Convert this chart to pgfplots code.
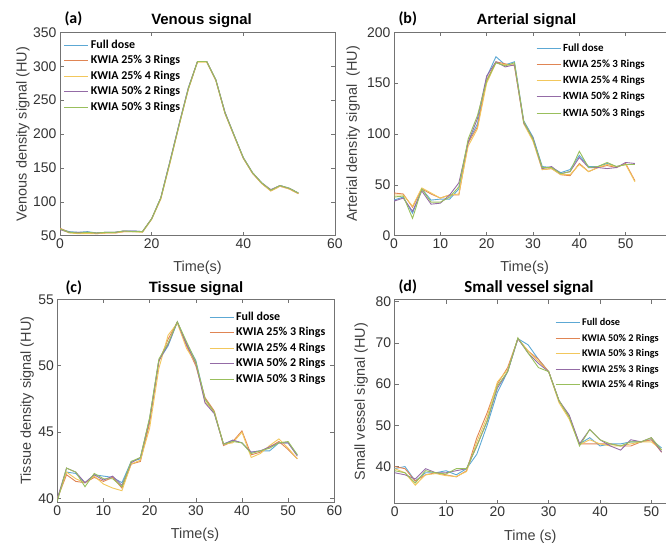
\documentclass[border=0pt]{standalone}
\usepackage{fontspec}
\setmainfont{Liberation Sans}
\newfontfamily\calibri{Carlito}
\usepackage{pgfplots}
\usepackage{pgfplotstable}
\pgfplotsset{compat=1.18}

\definecolor{cfd}{rgb}{0.36,0.66,0.83}
\definecolor{cor}{rgb}{0.88,0.52,0.33}
\definecolor{cye}{rgb}{0.95,0.78,0.36}
\definecolor{cpu}{rgb}{0.58,0.42,0.65}
\definecolor{cgr}{rgb}{0.60,0.75,0.36}

% venous: t, full dose, 25% 3R, 25% 4R, 50% 2R, 50% 3R
\pgfplotstableread{
t fd a b c d
0 60 61 60 59 60
2 56 55 54 55 55
4 55 54 53 55 54
6 56 54 53 55 55
8 54 53 53 54 54
10 55 54 54 55 55
12 55 54 54 55 55
14 57 56 56 57 57
16 57 56 56 57 56
18 56 56 55 56 56
20 75 75 74 75 75
22 106 105 104 106 106
24 160 158 157 160 159
26 215 213 213 215 214
28 268 266 266 268 267
30 307 307 306 307 307
32 307 307 306 307 307
34 280 279 279 280 280
36 232 230 231 232 231
38 198 197 197 198 198
40 165 164 164 165 165
42 143 142 142 143 143
44 128 127 127 128 128
46 117 116 116 118 117
48 124 123 123 124 124
50 120 119 119 120 120
52 113 112 112 113 113
}\venous

\pgfplotstableread{
t fd a b c d
0 35 42 40 34 38
2 38 41 40 37 39
4 22 28 29 24 17
6 46 46 47 44 46
8 35 41 42 31 33
10 36 37 37 32 33
12 36 40 40 40 38
14 46 40 41 52 48
16 92 91 88 92 95
18 110 107 105 115 118
20 156 153 150 157 152
22 176 171 170 171 170
24 168 169 168 166 167
26 171 167 168 168 170
28 113 112 110 111 112
30 97 94 93 96 95
32 68 65 65 66 67
34 67 66 66 68 67
36 62 60 60 61 61
38 65 59 60 63 63
40 79 71 70 77 83
42 68 63 63 67 67
44 68 67 67 67 68
46 71 69 70 66 72
48 68 67 68 67 68
50 70 71 70 72 70
52 70 54 53 71 70
}\arterial

\pgfplotstableread{
t fd a b c d
0 40.0 40.0 40.0 40.0 39.8
2 42.0 41.8 42.0 42.3 42.3
4 41.9 41.3 41.5 42.0 42.0
6 41.2 41.2 41.2 41.2 40.9
8 41.8 41.6 41.7 41.8 41.9
10 41.7 41.3 41.1 41.4 41.5
12 41.6 41.6 40.8 41.7 41.5
14 41.2 40.8 40.6 41.0 40.9
16 42.8 42.6 42.6 42.7 42.8
18 43.0 42.8 42.9 43.1 43.1
20 46.0 45.7 45.3 46.0 46.1
22 50.4 50.3 49.8 50.4 50.5
24 51.5 52.0 52.3 51.6 51.7
26 53.3 53.3 53.2 53.3 53.3
28 51.7 51.5 51.3 51.6 51.8
30 50.4 50.0 50.2 50.2 50.3
32 47.5 47.6 47.3 47.2 47.5
34 46.5 46.6 46.5 46.4 46.5
36 44.1 44.0 44.1 44.1 44.1
38 44.4 44.3 44.2 44.4 44.3
40 44.2 45.1 45.0 44.2 44.2
42 43.5 43.3 43.1 43.5 43.4
44 43.6 43.5 43.4 43.6 43.6
46 43.6 43.9 44.0 43.9 43.8
48 44.2 44.3 44.5 44.2 44.2
50 44.2 43.7 43.8 44.2 44.3
52 43.3 43.0 43.0 43.2 43.3
}\tissue

% small vessel: full dose, 50% 2R, 50% 3R, 25% 3R, 25% 4R
\pgfplotstableread{
t fd a b c d
0 39.5 40.0 39.5 38.5 39.0
2 40.0 39.5 38.5 38.0 38.5
4 36.5 36.5 35.5 37.0 36.0
6 38.5 38.0 38.0 39.5 39.0
8 38.5 38.5 38.3 38.5 38.5
10 39.0 38.0 37.8 38.5 38.2
12 38.0 37.5 37.6 39.0 39.5
14 39.5 39.0 38.8 39.5 39.5
16 43.0 47.0 46.0 45.0 45.0
18 50.0 53.0 52.0 51.0 51.0
20 58.0 60.0 60.5 59.0 59.5
22 63.0 64.0 63.5 63.0 63.0
24 71.0 71.0 71.0 71.0 71.2
26 69.5 68.0 68.0 67.5 67.5
28 66.0 66.0 65.5 65.0 64.0
30 63.0 63.0 63.0 63.0 63.0
32 56.0 56.0 55.5 56.0 56.0
34 52.0 52.0 51.5 52.5 52.0
36 45.5 45.5 45.3 45.5 45.0
38 47.0 45.5 46.5 49.0 49.0
40 45.0 45.5 45.5 46.5 46.5
42 45.5 45.5 45.0 45.0 45.5
44 45.5 45.0 45.0 44.0 45.0
46 46.0 45.0 45.5 46.5 46.0
48 46.0 46.0 46.0 46.0 46.0
50 46.5 46.5 46.0 47.0 47.0
52 44.5 43.5 44.0 43.5 44.0
}\vessel

\pgfplotsset{
  panel/.style={
    scale only axis, anchor=south west,
    axis line style={black!55, line width=0.6bp},
    tick style={black!55, line width=0.6bp},
    tick align=inside, major tick length=4bp,
    ticklabel style={font=\fontsize{14}{14}\selectfont, text=black!80},
    /pgf/number format/assume math mode=true,
    label style={font=\fontsize{14.5}{15}\selectfont, text=black!75},
    legend style={draw=none, fill=none, anchor=north west,
      font=\calibri\bfseries\fontsize{12}{12}\selectfont,
      nodes={inner sep=2pt, text height=8.5bp, text depth=2.5bp}, row sep=0.5bp},
    legend cell align=left,
    legend image code/.code={\draw[##1] (0bp,0bp) -- (24bp,0bp);},
    every axis plot/.append style={line width=0.9bp, mark=none},
  },
}

\begin{document}
\begin{tikzpicture}
\path[use as bounding box] (0,0) rectangle (666bp,-545bp);

% (a)
\begin{axis}[panel, at={(60bp,-235.7bp)}, width=275bp, height=203.4bp,
  xmin=0, xmax=60, ymin=50, ymax=350,
  xtick={0,20,40,60}, ytick={50,100,...,350},
  xlabel={Time(s)}, ylabel={Venous density signal (HU)},
  xlabel style={at={(axis description cs:0.5,-0.158)}, anchor=center},
  ylabel style={at={(axis description cs:-0.135,0.5)}, anchor=center},
  legend style={at={(axis description cs:0.003,0.983)}}]
\addplot[cfd] table[x=t,y=fd] {\venous};
\addplot[cor] table[x=t,y=a] {\venous};
\addplot[cye] table[x=t,y=b] {\venous};
\addplot[cpu] table[x=t,y=c] {\venous};
\addplot[cgr] table[x=t,y=d] {\venous};
\legend{Full dose, KWIA 25\% 3 Rings, KWIA 25\% 4 Rings, KWIA 50\% 2 Rings, KWIA 50\% 3 Rings}
\end{axis}

% (b)
\begin{axis}[panel, at={(394bp,-235.7bp)}, width=278bp, height=203.4bp,
  xmin=0, xmax=60, ymin=0, ymax=200,
  xtick={0,10,...,50}, ytick={0,50,...,200},
  xlabel={Time(s)}, ylabel={Arterial density signal\ \ (HU)},
  xlabel style={at={(axis description cs:0.47,-0.158)}, anchor=center},
  ylabel style={at={(axis description cs:-0.147,0.5)}, anchor=center},
  legend style={at={(axis description cs:0.5,0.969)},
    font=\calibri\bfseries\fontsize{11}{11}\selectfont, row sep=1.2bp}]
\addplot[cfd] table[x=t,y=fd] {\arterial};
\addplot[cor] table[x=t,y=a] {\arterial};
\addplot[cye] table[x=t,y=b] {\arterial};
\addplot[cpu] table[x=t,y=c] {\arterial};
\addplot[cgr] table[x=t,y=d] {\arterial};
\legend{Full dose, KWIA 25\% 3 Rings, KWIA 25\% 4 Rings, KWIA 50\% 2 Rings, KWIA 50\% 3 Rings}
\end{axis}

% (c)
\begin{axis}[panel, at={(57.3bp,-502bp)}, width=277bp, height=202.7bp,
  xmin=0, xmax=60, ymin=39.75, ymax=55,
  xtick={0,10,...,60}, ytick={40,45,50,55},
  xlabel={Time(s)}, ylabel={Tissue density signal (HU)},
  xlabel style={at={(axis description cs:0.497,-0.163)}, anchor=center},
  ylabel style={at={(axis description cs:-0.109,0.5)}, anchor=center},
  legend style={at={(axis description cs:0.537,0.959)}}]
\addplot[cfd] table[x=t,y=fd] {\tissue};
\addplot[cor] table[x=t,y=a] {\tissue};
\addplot[cye] table[x=t,y=b] {\tissue};
\addplot[cpu] table[x=t,y=c] {\tissue};
\addplot[cgr] table[x=t,y=d] {\tissue};
\legend{Full dose, KWIA 25\% 3 Rings, KWIA 25\% 4 Rings, KWIA 50\% 2 Rings, KWIA 50\% 3 Rings}
\end{axis}

% (d)
\begin{axis}[panel, at={(394.7bp,-503.7bp)}, width=308bp, height=204.2bp,
  xmin=0, xmax=60, ymin=31, ymax=80.5,
  xtick={0,10,...,50}, ytick={40,50,...,80},
  xlabel={Time (s)}, ylabel={Small vessel signal (HU)},
  xlabel style={at={(axis description cs:0.44,-0.163)}, anchor=center},
  ylabel style={at={(axis description cs:-0.109,0.5)}, anchor=center},
  legend style={at={(axis description cs:0.511,0.935)},
    font=\calibri\bfseries\fontsize{10.3}{11}\selectfont, row sep=0.6bp}]
\addplot[cfd] table[x=t,y=fd] {\vessel};
\addplot[cor] table[x=t,y=a] {\vessel};
\addplot[cye] table[x=t,y=b] {\vessel};
\addplot[cpu] table[x=t,y=c] {\vessel};
\addplot[cgr] table[x=t,y=d] {\vessel};
\legend{Full dose, KWIA 50\% 2 Rings, KWIA 50\% 3 Rings, KWIA 25\% 3 Rings, KWIA 25\% 4 Rings}
\end{axis}

% panel letters and titles
\node[anchor=west, font=\calibri\bfseries\fontsize{16}{16}\selectfont] at (61bp,-18.5bp) {(a)};
\node[font=\bfseries\fontsize{15}{15}\selectfont] at (201.5bp,-21bp) {Venous signal};
\node[anchor=west, font=\calibri\bfseries\fontsize{16}{16}\selectfont] at (395bp,-18.5bp) {(b)};
\node[font=\bfseries\fontsize{15}{15}\selectfont] at (526.5bp,-21bp) {Arterial signal};
\node[anchor=west, font=\calibri\bfseries\fontsize{16}{16}\selectfont] at (62bp,-288bp) {(c)};
\node[font=\bfseries\fontsize{15}{15}\selectfont] at (196bp,-289bp) {Tissue signal};
\node[anchor=west, font=\calibri\bfseries\fontsize{16}{16}\selectfont] at (395bp,-287bp) {(d)};
\node[font=\calibri\bfseries\fontsize{17}{17}\selectfont] at (529bp,-288bp) {Small vessel signal};
\end{tikzpicture}
\end{document}
